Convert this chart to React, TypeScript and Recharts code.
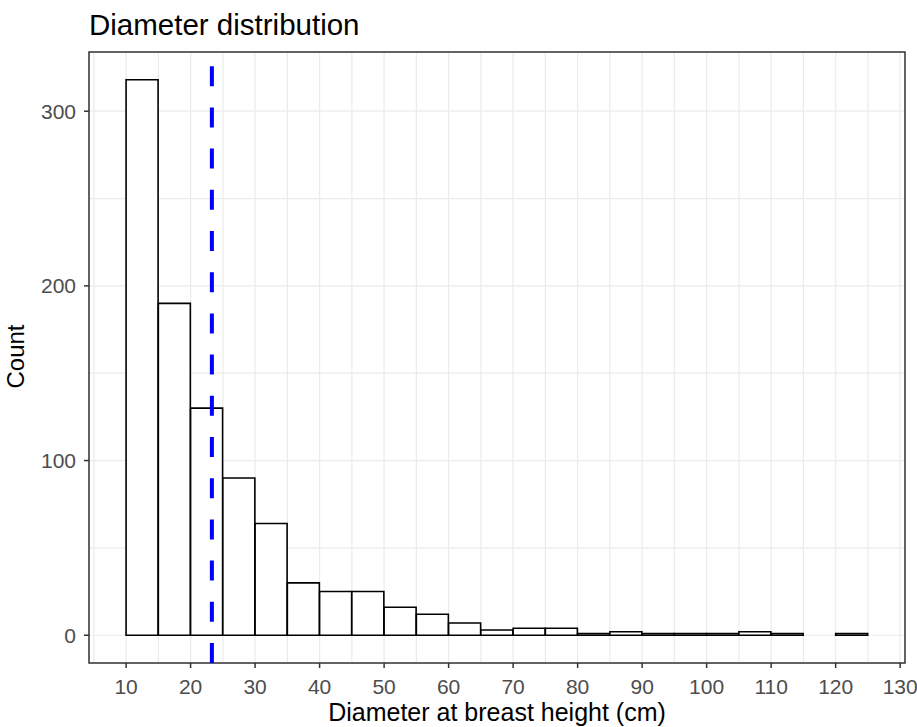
import React from "react";
import {
  ComposedChart,
  Bar,
  XAxis,
  YAxis,
  CartesianGrid,
  ReferenceLine,
  ReferenceArea,
} from "recharts";

// histogram bins (cm), binwidth 5
const binStart = [10, 15, 20, 25, 30, 35, 40, 45, 50, 55, 60, 65, 70, 75, 80, 85, 90, 95, 100, 105, 110, 115, 120];
const counts = [318, 190, 130, 90, 64, 30, 25, 25, 16, 12, 7, 3, 4, 4, 1, 2, 1, 1, 1, 2, 1, 0, 1];
const binWidth = 5;

// mean diameter (dashed line)
const meanDbh = 23.3;

const xTicks = [10, 20, 30, 40, 50, 60, 70, 80, 90, 100, 110, 120, 130];
const xGridLines = [5, 10, 15, 20, 25, 30, 35, 40, 45, 50, 55, 60, 65, 70, 75, 80, 85, 90, 95, 100, 105, 110, 115, 120, 125, 130];
const yTicks = [0, 100, 200, 300];
const yGridLines = [0, 50, 100, 150, 200, 250, 300];

const xDomain = [4.25, 130.75];
const yDomain = [-15.9, 333.9];

const data = binStart.map((s, i) => ({ mid: s + binWidth / 2, count: counts[i] }));

const FONT = "'Liberation Sans', Arial, sans-serif";
const tickStyle = { fill: "#4D4D4D", fontSize: 21, fontFamily: FONT };
const tickLineStyle = { stroke: "#333333", strokeWidth: 1.5 };

export default function App() {
  return (
    <div style={{ position: "absolute", left: 0, top: 0, width: 917, height: 727, background: "#fff" }}>
      <ComposedChart
        width={917}
        height={727}
        data={data}
        margin={{ top: 52, right: 12, bottom: 0, left: 0 }}
        barCategoryGap={0}
        barGap={0}
      >
        <XAxis
          xAxisId="x"
          dataKey="mid"
          type="number"
          domain={xDomain}
          allowDataOverflow
          ticks={xTicks}
          interval={0}
          height={64}
          axisLine={false}
          tickSize={5}
          tickMargin={11}
          tick={tickStyle}
          tickLine={tickLineStyle}
          label={{
            value: "Diameter at breast height (cm)",
            position: "insideBottom",
            offset: 6,
            fill: "#000",
            fontSize: 25,
            fontFamily: FONT,
          }}
        />
        <YAxis
          yAxisId="y"
          type="number"
          domain={yDomain}
          allowDataOverflow
          ticks={yTicks}
          interval={0}
          width={89}
          axisLine={false}
          tickSize={5}
          tickMargin={8}
          tick={tickStyle}
          tickLine={tickLineStyle}
        />
        <XAxis xAxisId="gx" dataKey="mid" type="number" domain={xDomain} allowDataOverflow ticks={xGridLines} height={0} hide />
        <YAxis yAxisId="gy" type="number" domain={yDomain} allowDataOverflow ticks={yGridLines} width={0} hide />
        <CartesianGrid
          xAxisId="gx"
          yAxisId="gy"
          stroke="#EBEBEB"
          strokeWidth={1.2}
        />
        <Bar
          xAxisId="x"
          yAxisId="y"
          dataKey="count"
          fill="#FFFFFF"
          stroke="#000000"
          strokeWidth={1.6}
          isAnimationActive={false}
        />
        <ReferenceLine
          xAxisId="x"
          yAxisId="y"
          x={meanDbh}
          stroke="#0000FF"
          strokeWidth={4}
          strokeDasharray="20 21.2"
        />
        <ReferenceArea
          xAxisId="x"
          yAxisId="y"
          x1={xDomain[0]}
          x2={xDomain[1]}
          y1={yDomain[0]}
          y2={yDomain[1]}
          fill="none"
          stroke="#333333"
          strokeWidth={1.5}
          ifOverflow="visible"
        />
      </ComposedChart>
      <svg
        width={917}
        height={727}
        style={{ position: "absolute", left: 0, top: 0, pointerEvents: "none" }}
      >
        <text x={89} y={34.5} fontSize={29.5} fontFamily={FONT} fill="#000">
          Diameter distribution
        </text>
        <text
          transform="translate(23.5,356.5) rotate(-90)"
          textAnchor="middle"
          fontSize={24}
          fontFamily={FONT}
          fill="#000"
        >
          Count
        </text>
      </svg>
    </div>
  );
}
